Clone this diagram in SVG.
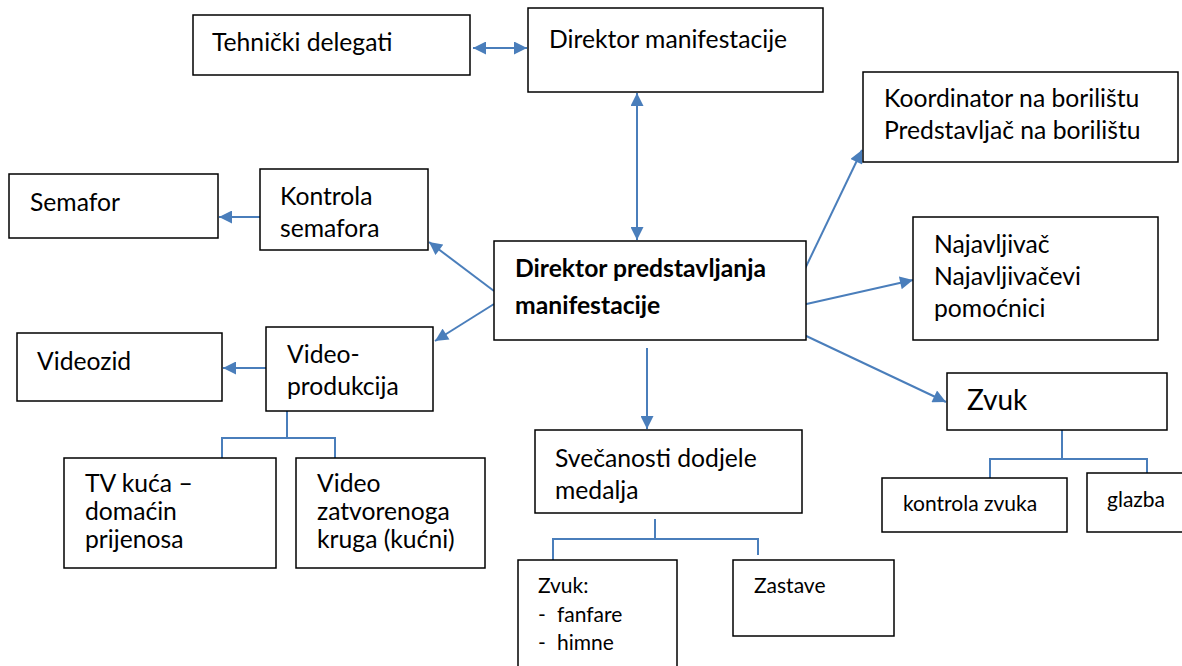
<svg xmlns="http://www.w3.org/2000/svg" width="1182" height="666" viewBox="0 0 1182 666">
<defs>
<marker id="ah" viewBox="0 0 10 10" refX="10" refY="5" markerWidth="7" markerHeight="6.5" markerUnits="strokeWidth" orient="auto-start-reverse">
<path d="M0,0 L10,5 L0,10 z" fill="#4A7EBB"/>
</marker>
<style>
.box{fill:#fff;stroke:#000;stroke-width:1.5}
.t{font-family:Lato,"Open Sans","Liberation Sans",sans-serif;font-size:24.7px;fill:#000}
.s{font-size:21px}
.b{font-weight:bold}
.c{fill:none;stroke:#4A7EBB;stroke-width:2}
</style>
</defs>
<rect width="1182" height="666" fill="#fff"/>
<g id="connectors">
<line class="c" x1="473" y1="48" x2="527" y2="48" marker-start="url(#ah)" marker-end="url(#ah)"/>
<line class="c" x1="637" y1="93" x2="637" y2="240" marker-start="url(#ah)" marker-end="url(#ah)"/>
<line class="c" x1="260" y1="217" x2="219" y2="217" marker-end="url(#ah)"/>
<line class="c" x1="494" y1="291" x2="429" y2="242" marker-end="url(#ah)"/>
<line class="c" x1="494" y1="304" x2="435" y2="341" marker-end="url(#ah)"/>
<line class="c" x1="266" y1="368" x2="223" y2="368" marker-end="url(#ah)"/>
<polyline class="c" points="222,458 222,438 335,438 335,458"/>
<line class="c" x1="287" y1="411" x2="287" y2="438"/>
<line class="c" x1="647" y1="348" x2="647" y2="429" marker-end="url(#ah)"/>
<polyline class="c" points="553,560 553,539 758,539 758,555"/>
<line class="c" x1="655" y1="519" x2="655" y2="539"/>
<line class="c" x1="802" y1="275" x2="862" y2="150" marker-end="url(#ah)"/>
<line class="c" x1="802" y1="305" x2="913" y2="280" marker-end="url(#ah)"/>
<line class="c" x1="802" y1="334" x2="946" y2="402" marker-end="url(#ah)"/>
<polyline class="c" points="990,478 990,459 1147,459 1147,473"/>
<line class="c" x1="1062" y1="430" x2="1062" y2="459"/>
</g>
<g id="n-tehnicki"><rect class="box" x="193" y="15" width="277" height="60"/><text class="t" x="212" y="51">Tehnički delegati</text></g>
<g id="n-dirman"><rect class="box" x="528" y="8" width="295" height="84"/><text class="t" x="549" y="48">Direktor manifestacije</text></g>
<g id="n-koord"><rect class="box" x="863" y="72" width="315" height="90"/><text class="t" x="884" y="107">Koordinator na borilištu</text><text class="t" x="884" y="139">Predstavljač na borilištu</text></g>
<g id="n-semafor"><rect class="box" x="9" y="174" width="209" height="64"/><text class="t" x="30" y="211">Semafor</text></g>
<g id="n-kontrola"><rect class="box" x="260" y="169" width="168" height="81"/><text class="t" x="280" y="205">Kontrola</text><text class="t" x="280" y="237">semafora</text></g>
<g id="n-central"><rect class="box" x="494" y="241" width="312" height="99"/><text class="t b" x="515" y="277">Direktor predstavljanja</text><text class="t b" x="515" y="314">manifestacije</text></g>
<g id="n-najav"><rect class="box" x="913" y="217" width="245" height="123"/><text class="t" x="934" y="253">Najavljivač</text><text class="t" x="934" y="285">Najavljivačevi</text><text class="t" x="934" y="317">pomoćnici</text></g>
<g id="n-videozid"><rect class="box" x="17" y="333" width="205" height="68"/><text class="t" x="37" y="370">Videozid</text></g>
<g id="n-video"><rect class="box" x="266" y="327" width="167" height="84"/><text class="t" x="287" y="363">Video-</text><text class="t" x="287" y="395">produkcija</text></g>
<g id="n-zvuk"><rect class="box" x="947" y="373" width="220" height="57"/><text class="t" x="967" y="410" style="font-size:28px">Zvuk</text></g>
<g id="n-tv"><rect class="box" x="64" y="458" width="212" height="110"/><text class="t" x="85" y="492">TV kuća –</text><text class="t" x="85" y="520">domaćin</text><text class="t" x="85" y="548">prijenosa</text></g>
<g id="n-cctv"><rect class="box" x="296" y="458" width="189" height="110"/><text class="t" x="317" y="492">Video</text><text class="t" x="317" y="520">zatvorenoga</text><text class="t" x="317" y="548">kruga (kućni)</text></g>
<g id="n-svec"><rect class="box" x="535" y="430" width="267" height="83"/><text class="t" x="555" y="467">Svečanosti dodjele</text><text class="t" x="555" y="499">medalja</text></g>
<g id="n-kontrolazvuka"><rect class="box" x="882" y="478" width="185" height="54"/><text class="t s" x="903" y="511">kontrola zvuka</text></g>
<g id="n-glazba"><rect class="box" x="1087" y="473" width="100" height="59"/><text class="t s" x="1107" y="507">glazba</text></g>
<g id="n-zvuk2"><rect class="box" x="518" y="560" width="159" height="110"/><text class="t s" x="538" y="593">Zvuk:</text><text class="t s" x="538" y="622">-</text><text class="t s" x="557" y="622">fanfare</text><text class="t s" x="538" y="650">-</text><text class="t s" x="557" y="650">himne</text></g>
<g id="n-zastave"><rect class="box" x="733" y="560" width="161" height="76"/><text class="t s" x="754" y="593">Zastave</text></g>
</svg>
